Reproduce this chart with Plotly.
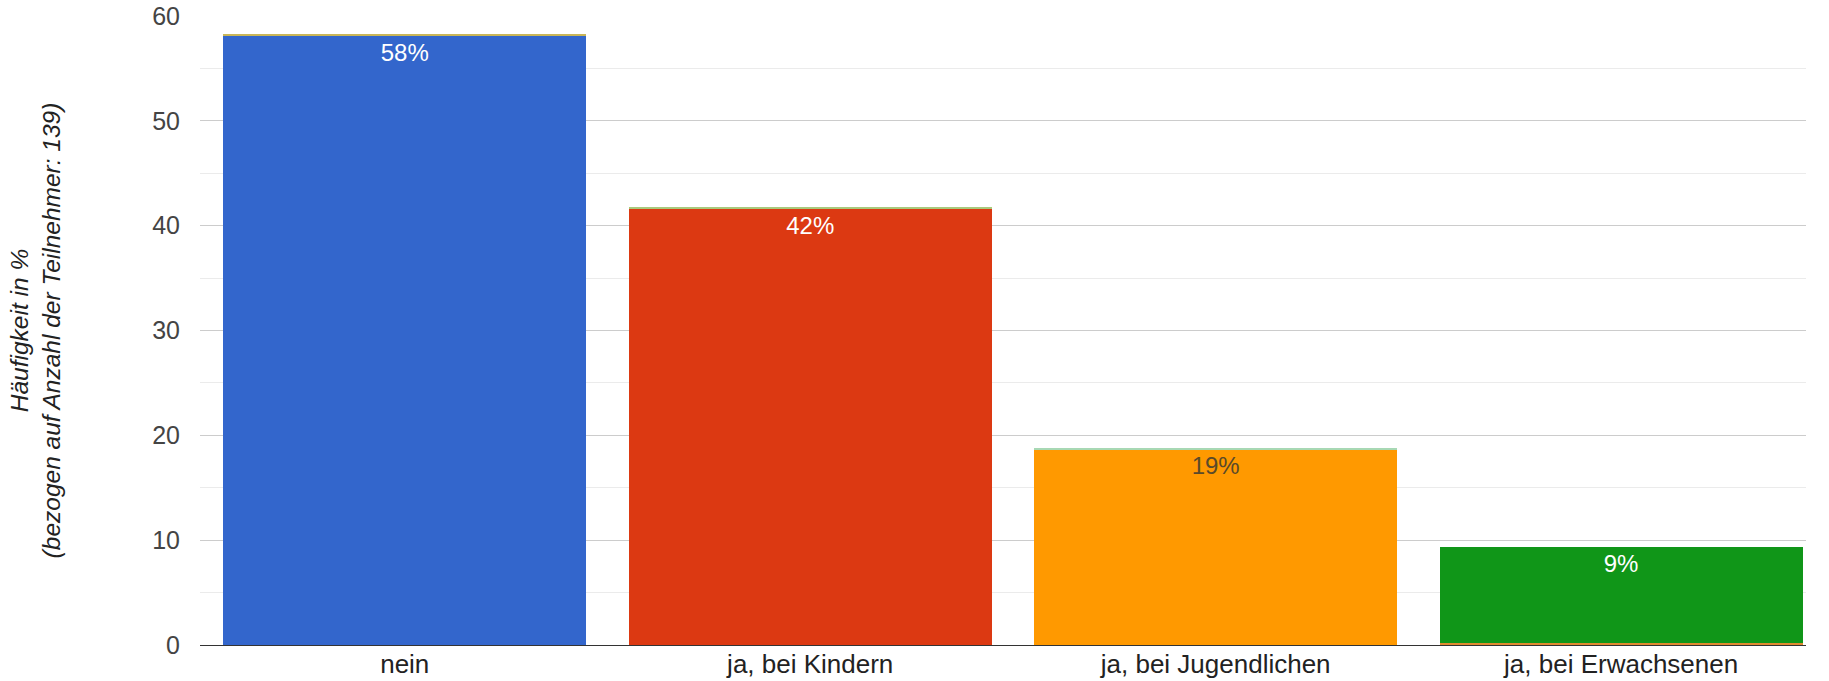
import plotly.graph_objects as go

categories = ["nein", "ja, bei Kindern", "ja, bei Jugendlichen", "ja, bei Erwachsenen"]
values = [58.12, 41.6, 18.65, 9.2]
labels = ["58%", "42%", "19%", "9%"]
colors = ["#3366cc", "#dc3912", "#ff9900", "#109618"]
label_colors = ["#ffffff", "#ffffff", "#5a4a2a", "#ffffff"]
# thin slivers of other (near-zero) series visible at bar edges
bottom_sliver = [0, 0, 0, 0.15]
bottom_sliver_colors = ["#ff9900", "#ff9900", "#ff9900", "#e08a30"]
top_sliver = [0.15, 0.15, 0.15, 0]
top_sliver_colors = ["#c9b657", "#a9c97c", "#a8d8b4", "#109618"]

fig = go.Figure()
fig.add_trace(go.Bar(
    x=categories, y=bottom_sliver,
    marker=dict(color=bottom_sliver_colors, line=dict(width=0)),
    hoverinfo="skip",
))
fig.add_trace(go.Bar(
    x=categories, y=values, text=labels,
    marker=dict(color=colors, line=dict(width=0)),
    textposition="inside", insidetextanchor="end",
    textangle=0,
    textfont=dict(family="Liberation Sans, Arial", size=24, color=label_colors),
    hoverinfo="skip",
))
fig.add_trace(go.Bar(
    x=categories, y=top_sliver,
    marker=dict(color=top_sliver_colors, line=dict(width=0)),
    hoverinfo="skip",
))

fig.update_layout(
    width=1829, height=681,
    margin=dict(l=200, r=23, t=16, b=36, autoexpand=False),
    paper_bgcolor="white", plot_bgcolor="white",
    barmode="stack",
    bargap=0.105,
    showlegend=False,
    font=dict(family="Liberation Sans, Arial", size=25, color="#444444"),
    uniformtext=dict(mode=False),
)
fig.update_yaxes(
    range=[0, 60], dtick=10, tick0=0,
    gridcolor="#cccccc", gridwidth=1,
    minor=dict(dtick=5, gridcolor="#ebebeb", gridwidth=1, showgrid=True),
    zeroline=False, showline=False,
    ticks="", ticklabelstandoff=19,
    tickfont=dict(size=25, color="#444444"),
    automargin=False,
    title=dict(text="<i>Häufigkeit in %<br>(bezogen auf Anzahl der Teilnehmer: 139)</i>",
               font=dict(size=24.5, color="#222222"), standoff=84),
)
fig.update_xaxes(
    range=[-0.505, 3.456],
    showline=True, linecolor="#333333", linewidth=1,
    ticks="", ticklabelstandoff=-4, tickfont=dict(size=26, color="#222222"),
    automargin=False,
)

fig.write_html("out.html", config={"displayModeBar": False},
               post_script="document.body.style.margin='0';")
